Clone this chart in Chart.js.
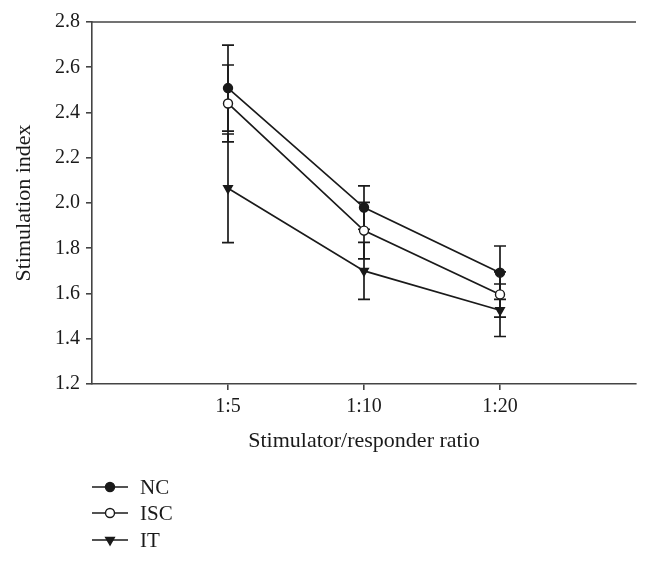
<!DOCTYPE html>
<html>
<head>
<meta charset="utf-8">
<script src="https://cdn.jsdelivr.net/npm/chart.js@4.4.1/dist/chart.umd.min.js"></script>
<style>
  html, body { margin: 0; padding: 0; background: #fff; }
  #wrap { width: 650px; height: 563px; position: relative; }
</style>
</head>
<body>
<div id="wrap"><canvas id="chart"></canvas></div>
<script>
const categories = ['1:5', '1:10', '1:20'];
const seriesNames = ['NC', 'ISC', 'IT'];

const ncValues = [2.508, 1.980, 1.692];
const ncErrors = [0.190, 0.096, 0.118];
const iscValues = [2.440, 1.878, 1.596];
const iscErrors = [0.170, 0.125, 0.100];
const itValues = [2.065, 1.700, 1.526];
const itErrors = [0.240, 0.126, 0.116];

const yTicks = [1.2, 1.4, 1.6, 1.8, 2.0, 2.2, 2.4, 2.6, 2.8];

const INK = '#1a1a1a';
const FONT = "'Liberation Serif', 'Times New Roman', serif";

// category i sits at x = i + 1 on a 0..4 linear axis
const toPoints = (vals, errs) => vals.map((v, i) => ({ x: i + 1, y: v, err: errs[i] }));

const errorBars = {
    id: 'errorBars',
    beforeDatasetsDraw(chart) {
        const { ctx, scales: { x, y } } = chart;
        ctx.save();
        ctx.strokeStyle = INK;
        ctx.lineWidth = 1.7;
        chart.data.datasets.forEach(ds => {
            ds.data.forEach(p => {
                const px = x.getPixelForValue(p.x);
                const top = y.getPixelForValue(p.y + p.err);
                const bot = y.getPixelForValue(p.y - p.err);
                ctx.beginPath();
                ctx.moveTo(px, top);
                ctx.lineTo(px, bot);
                ctx.moveTo(px - 6, top);
                ctx.lineTo(px + 6, top);
                ctx.moveTo(px - 6, bot);
                ctx.lineTo(px + 6, bot);
                ctx.stroke();
            });
        });
        ctx.restore();
    }
};

const frameAndLegend = {
    id: 'frameAndLegend',
    afterDraw(chart) {
        const { ctx, chartArea } = chart;
        ctx.save();
        // top border
        ctx.strokeStyle = '#444';
        ctx.lineWidth = 1.6;
        ctx.beginPath();
        ctx.moveTo(chartArea.left, chartArea.top);
        ctx.lineTo(chartArea.right, chartArea.top);
        ctx.stroke();

        // legend, stacked at the bottom left
        const x0 = 92, rowY = [487, 513, 540];
        ctx.font = '21px ' + FONT;
        ctx.textBaseline = 'middle';
        chart.data.datasets.forEach((ds, i) => {
            const yy = rowY[i];
            ctx.strokeStyle = INK;
            ctx.lineWidth = 1.7;
            ctx.beginPath();
            ctx.moveTo(x0, yy);
            ctx.lineTo(x0 + 36, yy);
            ctx.stroke();
            ctx.fillStyle = ds.pointBackgroundColor;
            ctx.strokeStyle = INK;
            ctx.lineWidth = ds.pointBorderWidth;
            Chart.helpers.drawPoint(ctx, {
                pointStyle: ds.pointStyle,
                radius: ds.pointRadius,
                rotation: ds.pointRotation || 0,
                borderWidth: ds.pointBorderWidth
            }, x0 + 18, yy);
            ctx.fillStyle = INK;
            ctx.fillText(ds.label, x0 + 48, yy + 1);
        });
        ctx.restore();
    }
};

const lineStyle = {
    borderColor: INK,
    borderWidth: 1.7,
    pointBorderColor: INK,
    pointBorderWidth: 1.4,
    pointRadius: 4.5,
    pointHoverRadius: 4.5,
    tension: 0,
    fill: false
};

new Chart(document.getElementById('chart'), {
    type: 'line',
    data: {
        datasets: [
            { ...lineStyle, label: seriesNames[0], data: toPoints(ncValues, ncErrors),
              pointStyle: 'circle', pointBackgroundColor: INK },
            { ...lineStyle, label: seriesNames[1], data: toPoints(iscValues, iscErrors),
              pointStyle: 'circle', pointBackgroundColor: '#fff' },
            { ...lineStyle, label: seriesNames[2], data: toPoints(itValues, itErrors),
              pointStyle: 'triangle', pointRotation: 180, pointBackgroundColor: INK, pointRadius: 5 }
        ]
    },
    options: {
        responsive: true,
        maintainAspectRatio: false,
        animation: false,
        layout: { padding: { left: 0, top: 22, right: 14, bottom: 109 } },
        plugins: {
            legend: { display: false },
            tooltip: { enabled: false }
        },
        scales: {
            x: {
                type: 'linear',
                min: 0,
                max: 4,
                afterBuildTicks: s => { s.ticks = categories.map((c, i) => ({ value: i + 1 })); },
                afterFit: s => { s.height = 70; },
                ticks: {
                    callback: v => categories[v - 1],
                    color: INK,
                    font: { family: FONT, size: 20 },
                    padding: 5,
                    maxRotation: 0
                },
                grid: { drawOnChartArea: false, drawTicks: true, tickLength: 6, color: '#444', lineWidth: 1.6 },
                border: { color: '#444', width: 1.6 },
                title: {
                    display: true,
                    text: 'Stimulator/responder ratio',
                    color: INK,
                    font: { family: FONT, size: 22 },
                    padding: { top: 0, bottom: 0 }
                }
            },
            y: {
                min: 1.2,
                max: 2.8,
                afterBuildTicks: s => { s.ticks = yTicks.map(v => ({ value: v })); },
                afterFit: s => { s.width = 92; },
                ticks: {
                    callback: v => v.toFixed(1),
                    color: INK,
                    font: { family: FONT, size: 20 },
                    padding: 6
                },
                grid: { drawOnChartArea: false, drawTicks: true, tickLength: 6, color: '#444', lineWidth: 1.6 },
                border: { color: '#444', width: 1.6 },
                title: {
                    display: true,
                    text: 'Stimulation index',
                    color: INK,
                    font: { family: FONT, size: 22 },
                    padding: { top: 11, bottom: 0 }
                }
            }
        }
    },
    plugins: [errorBars, frameAndLegend]
});
</script>
</body>
</html>
